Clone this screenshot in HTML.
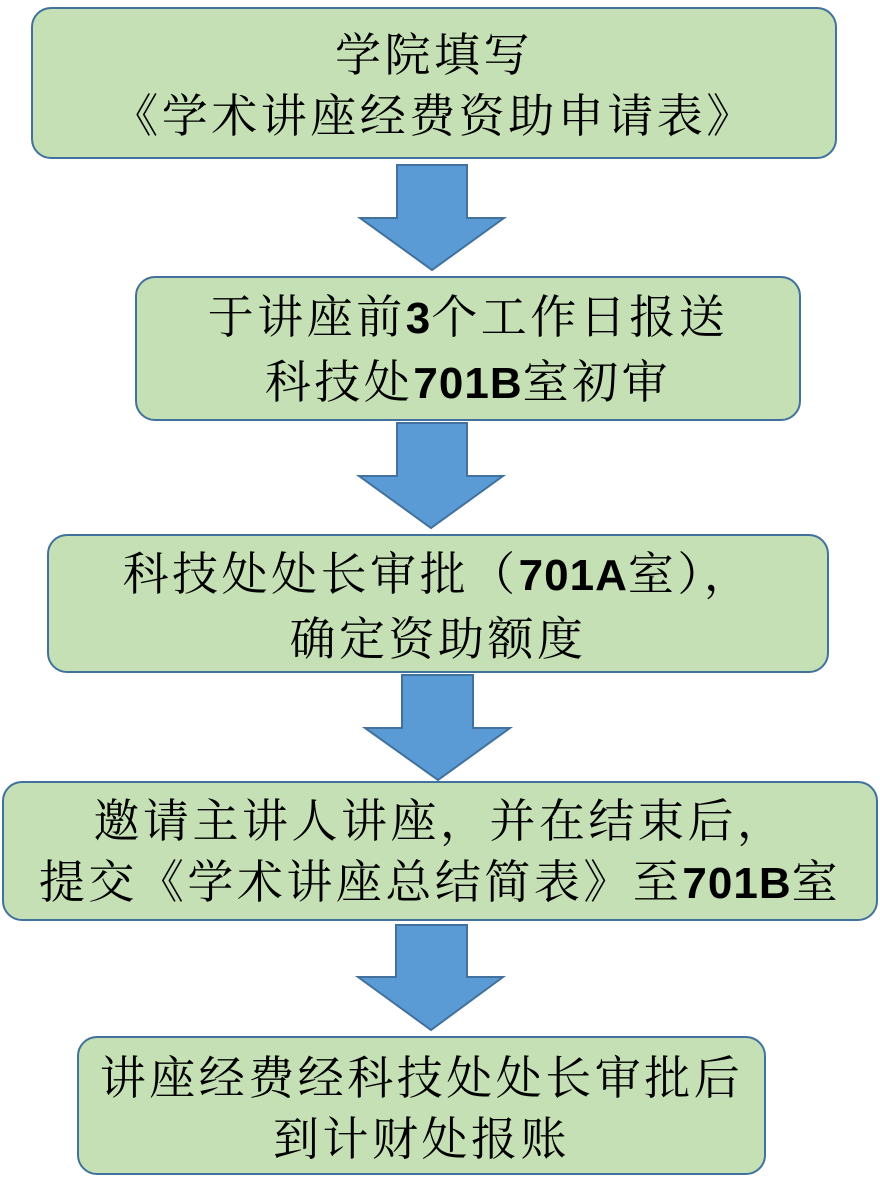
<!DOCTYPE html>
<html><head><meta charset="utf-8"><style>
html,body{margin:0;padding:0;background:#fff;}
body{width:880px;height:1196px;position:relative;overflow:hidden;font-family:"Noto Serif CJK SC","WenQuanYi Zen Hei",serif;}
.b{position:absolute;box-sizing:border-box;background:#c5e0b4;border:2px solid #41719c;border-radius:20px;text-align:center;color:#000;font-size:46px;letter-spacing:3.5px;line-height:61px;display:flex;flex-direction:column;justify-content:center;}
.b div{white-space:nowrap;}
.n{font-family:"Liberation Sans",sans-serif;font-weight:bold;font-size:44px;letter-spacing:1px;}
svg{position:absolute;left:0;top:0;}
</style></head><body>
<svg width="880" height="1196">
<g fill="#5b9bd5" stroke="#41719c" stroke-width="2">
<polygon points="397,165 467,165 467,218 504,218 432,270 360,218 397,218"/>
<polygon points="397,423 467,423 467,476 503,476 431,528 359,476 397,476"/>
<polygon points="402,675 473,675 473,728 510,728 438,780 365,728 402,728"/>
<polygon points="396,925 467,925 467,977 503,977 431,1030 358,977 396,977"/>
</g></svg>
<div class="b" style="left:31px;top:7px;width:806px;height:152px;"><div>学院填写</div><div>《学术讲座经费资助申请表》</div></div>
<div class="b" style="left:135px;top:276px;width:666px;height:145px;"><div>于讲座前<span class="n">3</span>个工作日报送</div><div>科技处<span class="n">701B</span>室初审</div></div>
<div class="b" style="left:47px;top:534px;width:782px;height:139px;"><div>科技处处长审批（<span class="n">701A</span>室），</div><div>确定资助额度</div></div>
<div class="b" style="left:2px;top:781px;width:876px;height:140px;"><div>邀请主讲人讲座，并在结束后，</div><div>提交《学术讲座总结简表》至<span class="n">701B</span>室</div></div>
<div class="b" style="left:77px;top:1036px;width:689px;height:139px;"><div>讲座经费经科技处处长审批后</div><div>到计财处报账</div></div>
</body></html>
